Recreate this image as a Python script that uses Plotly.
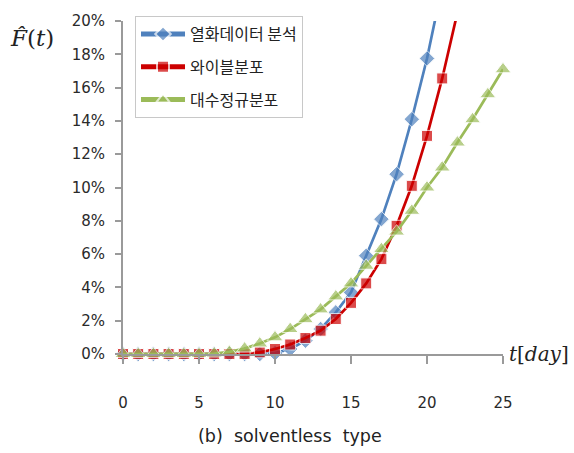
import plotly.graph_objects as go

# Days on the horizontal axis
days = list(range(0, 26))

# Cumulative failure probability F(t) in percent for each method
degradation = [0, 0, 0, 0, 0, 0, 0, 0, 0, 0, 0.05, 0.3, 0.8, 1.5, 2.5, 3.7,
               5.9, 8.1, 10.8, 14.1, 17.75, 22.1]
weibull = [0, 0, 0, 0, 0, 0, 0, 0, 0, 0.1, 0.3, 0.57, 0.96, 1.4, 2.1, 3.07,
           4.24, 5.7, 7.7, 10.1, 13.1, 16.55, 20.5]
lognormal = [0, 0, 0, 0, 0, 0, 0.03, 0.13, 0.33, 0.63, 1.0, 1.5, 2.09, 2.68,
             3.46, 4.24, 5.3, 6.3, 7.35, 8.6, 10.0, 11.2, 12.7, 14.1, 15.6, 17.1]

series_names = ["열화데이터 분석", "와이블분포", "대수정규분포"]
y_ticks = [0, 2, 4, 6, 8, 10, 12, 14, 16, 18, 20]
y_labels = [f"{v}%" for v in y_ticks]
x_ticks = [0, 5, 10, 15, 20, 25]

Y_MAX = 20


def sizes(values, size):
    # markers above the axis maximum are not drawn (the line still runs to the edge)
    return [size if v <= Y_MAX else 0 for v in values]


fig = go.Figure()

styles = [
    (degradation, "#4F81BD", "diamond", 12),
    (weibull, "#CC0000", "square", 11),
    (lognormal, "#9BBB59", "triangle-up", 14),
]
for i, (vals, color, symbol, msize) in enumerate(styles):
    fig.add_trace(go.Scatter(
        x=days[:len(vals)], y=vals, name=series_names[i],
        mode="lines+markers",
        line=dict(color=color, width=2.7),
        marker=dict(color=color, symbol=symbol, size=sizes(vals, msize)),
        cliponaxis=False,
        legendgroup=f"g{i}",
    ))

tick_font = dict(family="DejaVu Sans", size=15, color="#2a2a2a")

fig.update_layout(
    width=574, height=453,
    margin=dict(l=123, r=71, t=13, b=99),
    paper_bgcolor="white", plot_bgcolor="white",
    showlegend=True,
    legend=dict(
        x=0.0316, y=1.0147, xanchor="left", yanchor="top",
        bordercolor="#c8c8c8", borderwidth=1, bgcolor="white",
        font=dict(family="Noto Sans CJK KR", size=16, color="#222"),
        tracegroupgap=9, itemsizing="constant", itemwidth=44,
    ),
    xaxis=dict(
        range=[0, 25], tickvals=x_ticks, ticktext=[str(t) for t in x_ticks],
        showgrid=False, zeroline=False,
        showline=True, linecolor="#9a9a9a", linewidth=2,
        ticks="outside", ticklen=8, tickcolor="#9a9a9a", tickwidth=1.5,
        ticklabelstandoff=26, tickfont=tick_font,
    ),
    yaxis=dict(
        range=[0, 20], tickvals=y_ticks, ticktext=y_labels,
        showgrid=False, zeroline=False,
        showline=True, linecolor="#9a9a9a", linewidth=2,
        ticks="outside", ticklen=6, tickcolor="#9a9a9a", tickwidth=1.5,
        ticklabelstandoff=7, tickfont=tick_font,
    ),
    annotations=[
        dict(text="<i>F̂</i>(<i>t</i>)", xref="paper", yref="paper",
             x=-0.24, y=0.95, xanchor="center", yanchor="middle",
             showarrow=False,
             font=dict(family="DejaVu Serif", size=23, color="#222")),
        dict(text="<i>t</i>[<i>day</i>]", xref="paper", yref="paper",
             x=1.095, y=0.0, xanchor="center", yanchor="middle",
             showarrow=False,
             font=dict(family="DejaVu Serif", size=20, color="#222")),
        dict(text="(b)  solventless  type", xref="paper", yref="paper",
             x=0.44, y=-0.247, xanchor="center", yanchor="middle",
             showarrow=False,
             font=dict(family="DejaVu Sans", size=17.5, color="#222")),
    ],
)

fig.write_html("out.html")
